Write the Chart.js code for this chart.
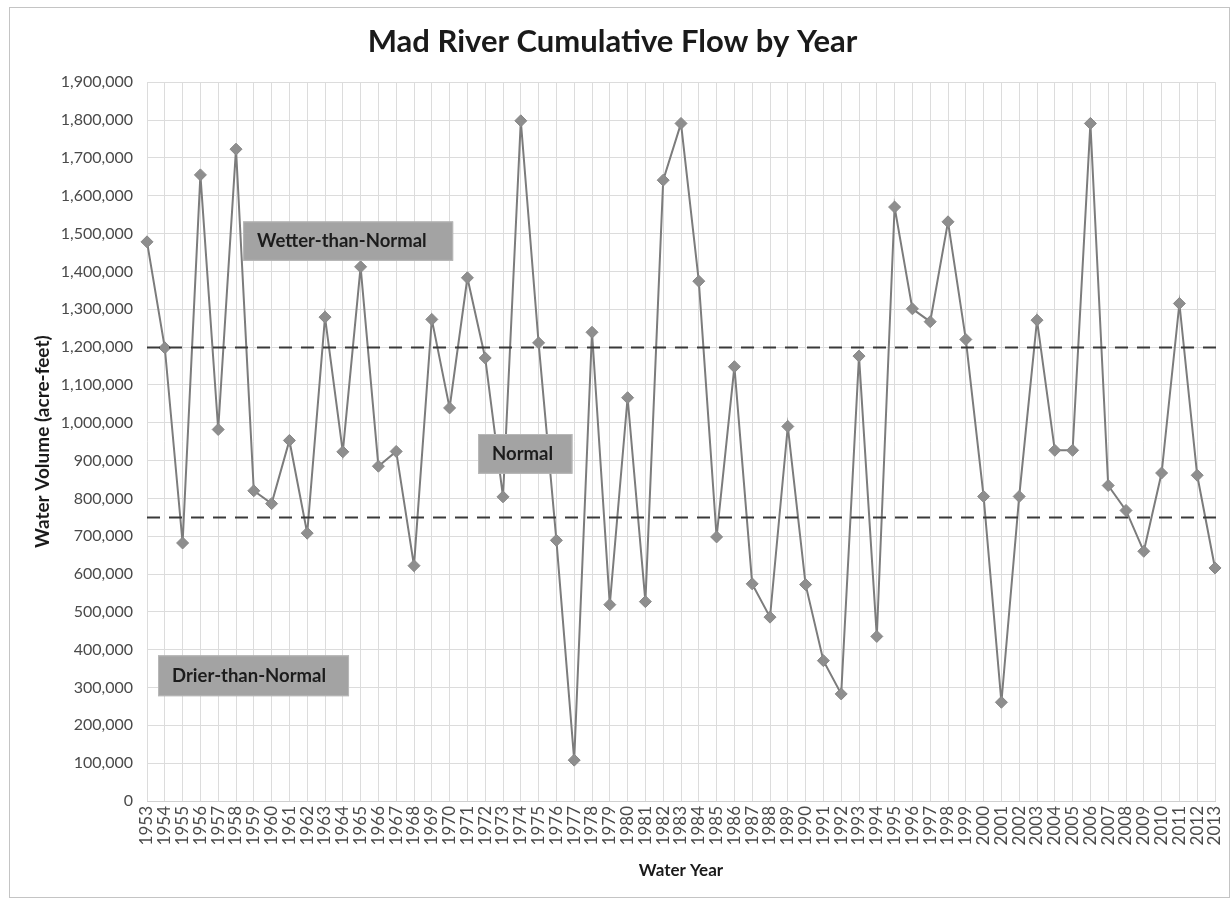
<!DOCTYPE html>
<html>
<head>
<meta charset="utf-8">
<title>Mad River Cumulative Flow by Year</title>
<script src="https://cdn.jsdelivr.net/npm/chart.js@4/dist/chart.umd.min.js"></script>
<style>
  html, body { margin: 0; padding: 0; background: #ffffff; overflow: hidden; }
  #flow { display: block; }
</style>
</head>
<body>
<canvas id="flow" width="1232" height="900"></canvas>
<script>
// Water years on the category axis
const waterYears = [
  '1953','1954','1955','1956','1957','1958','1959','1960','1961','1962',
  '1963','1964','1965','1966','1967','1968','1969','1970','1971','1972',
  '1973','1974','1975','1976','1977','1978','1979','1980','1981','1982',
  '1983','1984','1985','1986','1987','1988','1989','1990','1991','1992',
  '1993','1994','1995','1996','1997','1998','1999','2000','2001','2002',
  '2003','2004','2005','2006','2007','2008','2009','2010','2011','2012','2013'
];

// Annual cumulative flow, acre-feet
const annualFlow = [
  1478000, 1198000,  682000, 1655000,  982000, 1723000,  820000,  786000,  953000,  708000,
  1279000,  923000, 1412000,  885000,  924000,  622000, 1273000, 1039000, 1383000, 1171000,
   804000, 1798000, 1211000,  689000,  108000, 1239000,  519000, 1066000,  527000, 1641000,
  1791000, 1374000,  698000, 1148000,  574000,  486000,  990000,  572000,  371000,  283000,
  1176000,  435000, 1570000, 1301000, 1267000, 1531000, 1220000,  805000,  261000,  805000,
  1271000,  927000,  927000, 1791000,  834000,  768000,  660000,  867000, 1315000,  861000,  616000
];

// Boundaries between the flow classes (acre-feet)
const wetThreshold = 1200000;
const dryThreshold = 750000;

// Y axis range and step
const yMin = 0;
const yMax = 1900000;
const yStep = 100000;

// Class labels, anchored in axis units: [text, first year index, last year index, top value, bottom value]
const classLabels = [
  ['Wetter-than-Normal', 5.4, 17.2, 1532000, 1428000],
  ['Normal', 18.6, 23.9, 970000, 865000],
  ['Drier-than-Normal', 0.62, 11.35, 385000, 277000]
];

const FONT = 'Lato, "Open Sans", "DejaVu Sans", sans-serif';

// Outer frame around the whole chart
const framePlugin = {
  id: 'frame',
  beforeDraw(chart) {
    const ctx = chart.ctx;
    ctx.save();
    ctx.fillStyle = '#ffffff';
    ctx.fillRect(0, 0, chart.width, chart.height);
    ctx.strokeStyle = '#c4c4c4';
    ctx.lineWidth = 1;
    ctx.strokeRect(9.5, 7.5, 1220, 890);
    ctx.restore();
  }
};

// Dashed class boundaries and the class label boxes
const classPlugin = {
  id: 'classes',
  afterDatasetsDraw(chart) {
    const ctx = chart.ctx;
    const x = chart.scales.x;
    const y = chart.scales.y;
    const x0 = x.getPixelForValue(0);
    const x1 = x.getPixelForValue(waterYears.length - 1) + 2;
    ctx.save();
    ctx.strokeStyle = '#3a3a3a';
    ctx.lineWidth = 2;
    ctx.setLineDash([13, 9]);
    [wetThreshold, dryThreshold].forEach(v => {
      const py = Math.round(y.getPixelForValue(v)) + 0.5;
      ctx.beginPath();
      ctx.moveTo(x0, py);
      ctx.lineTo(x1, py);
      ctx.stroke();
    });
    ctx.setLineDash([]);
    classLabels.forEach(([text, i0, i1, vTop, vBot]) => {
      const left = x.getPixelForValue(i0);
      const right = x.getPixelForValue(i1);
      const top = y.getPixelForValue(vTop);
      const bottom = y.getPixelForValue(vBot);
      ctx.fillStyle = '#a3a3a3';
      ctx.fillRect(left, top, right - left, bottom - top);
      ctx.strokeStyle = '#b8b8b8';
      ctx.lineWidth = 1;
      ctx.strokeRect(left + 0.5, top + 0.5, right - left - 1, bottom - top - 1);
      ctx.fillStyle = '#1c1c1c';
      ctx.font = 'bold 18.5px ' + FONT;
      ctx.textAlign = 'left';
      ctx.textBaseline = 'middle';
      ctx.fillText(text, left + 14, (top + bottom) / 2);
    });
    ctx.restore();
  }
};

new Chart(document.getElementById('flow'), {
  type: 'line',
  data: {
    labels: waterYears,
    datasets: [{
      label: 'Cumulative Flow',
      data: annualFlow,
      borderColor: '#7c7c7c',
      backgroundColor: '#8e8e8e',
      borderWidth: 2,
      pointStyle: 'rectRot',
      pointRadius: 6,
      pointBackgroundColor: '#8e8e8e',
      pointBorderColor: '#888888',
      pointBorderWidth: 1,
      tension: 0,
      fill: false
    }]
  },
  options: {
    responsive: false,
    animation: false,
    devicePixelRatio: 1,
    layout: { padding: { top: 8, left: 10, right: 17, bottom: 10 } },
    plugins: {
      legend: { display: false },
      tooltip: { enabled: false },
      title: {
        display: true,
        text: 'Mad River Cumulative Flow by Year',
        color: '#1a1a1a',
        font: { family: FONT, size: 31, weight: 'bold' },
        padding: { top: 15, bottom: 22 }
      }
    },
    scales: {
      x: {
        type: 'category',
        offset: false,
        grid: { color: '#dcdcdc', lineWidth: 1, drawTicks: false },
        border: { display: true, color: '#d0d0d0' },
        ticks: {
          autoSkip: false,
          minRotation: 90,
          maxRotation: 90,
          padding: 5,
          color: '#4a4a4a',
          font: { family: FONT, size: 17 }
        },
        title: {
          display: true,
          text: 'Water Year',
          color: '#1a1a1a',
          font: { family: FONT, size: 17, weight: 'bold' },
          padding: { top: 4, bottom: 9 }
        },
        afterFit(scale) {
          scale.height = 89;
          scale.paddingLeft = 0;
          scale.paddingRight = 0;
        }
      },
      y: {
        min: yMin,
        max: yMax,
        grid: { color: '#dcdcdc', lineWidth: 1, drawTicks: false },
        border: { display: false },
        ticks: {
          stepSize: yStep,
          padding: 14,
          color: '#4a4a4a',
          font: { family: FONT, size: 16 },
          callback: v => Number(v).toLocaleString('en-US')
        },
        title: {
          display: true,
          text: 'Water Volume (acre-feet)',
          color: '#1a1a1a',
          font: { family: FONT, size: 19, weight: 'bold' },
          padding: { top: 21, bottom: 4 }
        },
        afterFit(scale) { scale.width = 137; }
      }
    }
  },
  plugins: [framePlugin, classPlugin]
});
</script>
</body>
</html>
